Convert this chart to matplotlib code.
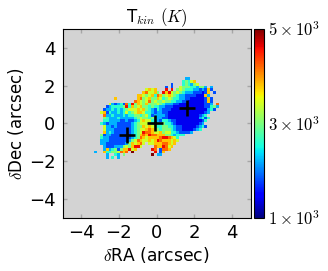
import matplotlib
matplotlib.use("Agg")
import matplotlib.pyplot as plt
import numpy as np

plt.rcParams["mathtext.fontset"] = "cm"

# temperature map, one char per cell, digit d = 1400+400*d K, "." = no data
rows = [
"................................22",
"...............................34356",
"...........................1...343245",
".........................1.1..5444332442.2",
"..................5656...8.8.4543332212161",
".................675564.86854543222111016.1",
"...............66545637645654322111100062",
".......6.......674564465345433221100000161",
"..............7654574544544332211000000161",
".....5212317384654644454322211000000000112.7",
"....1233334836456443433221110000000000011342",
"...1223232345556564321321110000000000000231",
"..561322323534566533212211000000000000012",
"...7223222323344345312222100000000000123",
"...43222322222345443422211000000000002313",
"...3322221121123565532213321100000000013",
"..3212221111123455543233433210000000012",
"...5221211111234465654334433211000001231",
"...52221111112345567654344432110000123",
"...62321111112345877655645533211112",
"..412211111112346768776664432333",
"..3221111111123476566667887653",
"..2221111111245765565687666565",
"..2211111112465675.5566677656",
"...21112224546885....7668756",
"...262341466856.....87.1776",
"2..633445767.9.......8.16",
"....2..32.4.........9.22",
"....2.3.2............",
]
cross_x = [-1.56, -0.1, 1.6]
cross_y = [-0.64, 0.0, 0.81]
x_ticks = [-4, -2, 0, 2, 4]
cb_ticks = [1000, 3000, 5000]
cb_labels = [r"$1\times10^3$", r"$3\times10^3$", r"$5\times10^3$"]

ncol = 44
grid = np.full((len(rows), ncol), np.nan)
for j, r in enumerate(rows):
    for i, c in enumerate(r[:ncol]):
        if c != ".":
            grid[j, i] = 1400 + 400 * int(c)

xe = -3.3 + 0.15 * np.arange(ncol + 1)
ye = 2.45 - 0.15 * np.arange(len(rows) + 1)

fig = plt.figure(figsize=(3.28, 2.71), dpi=100)
ax = fig.add_axes([62.5 / 328, 1 - 217.5 / 271, 188 / 328, 188.5 / 271])
ax.set_facecolor("lightgray")
im = ax.pcolormesh(xe, ye, np.ma.masked_invalid(grid), cmap="jet", vmin=1000, vmax=5000)
ax.plot(cross_x, cross_y, "+", color="k", ms=11, mew=1.9)
ax.set_xlim(-5, 5)
ax.set_ylim(-5, 5)
ax.set_xticks(x_ticks)
ax.set_yticks(x_ticks)
ax.tick_params(direction="in", length=3, width=1, color="0.65", top=True, right=True, labelsize=13, pad=5)
ax.set_xlabel(r"$\delta$RA (arcsec)", fontsize=12.3, labelpad=2)
ax.set_ylabel(r"$\delta$Dec (arcsec)", fontsize=12, labelpad=2)
ax.set_title(r"T$_{kin}$ $(K)$", fontsize=12, pad=5)

cax = fig.add_axes([253.5 / 328, 1 - 217.5 / 271, 10.5 / 328, 188.5 / 271])
cb = fig.colorbar(im, cax=cax)
cb.set_ticks(cb_ticks)
cb.set_ticklabels(cb_labels)
cb.ax.tick_params(length=0, labelsize=12, pad=3)

fig.savefig("out.png", dpi=100)
